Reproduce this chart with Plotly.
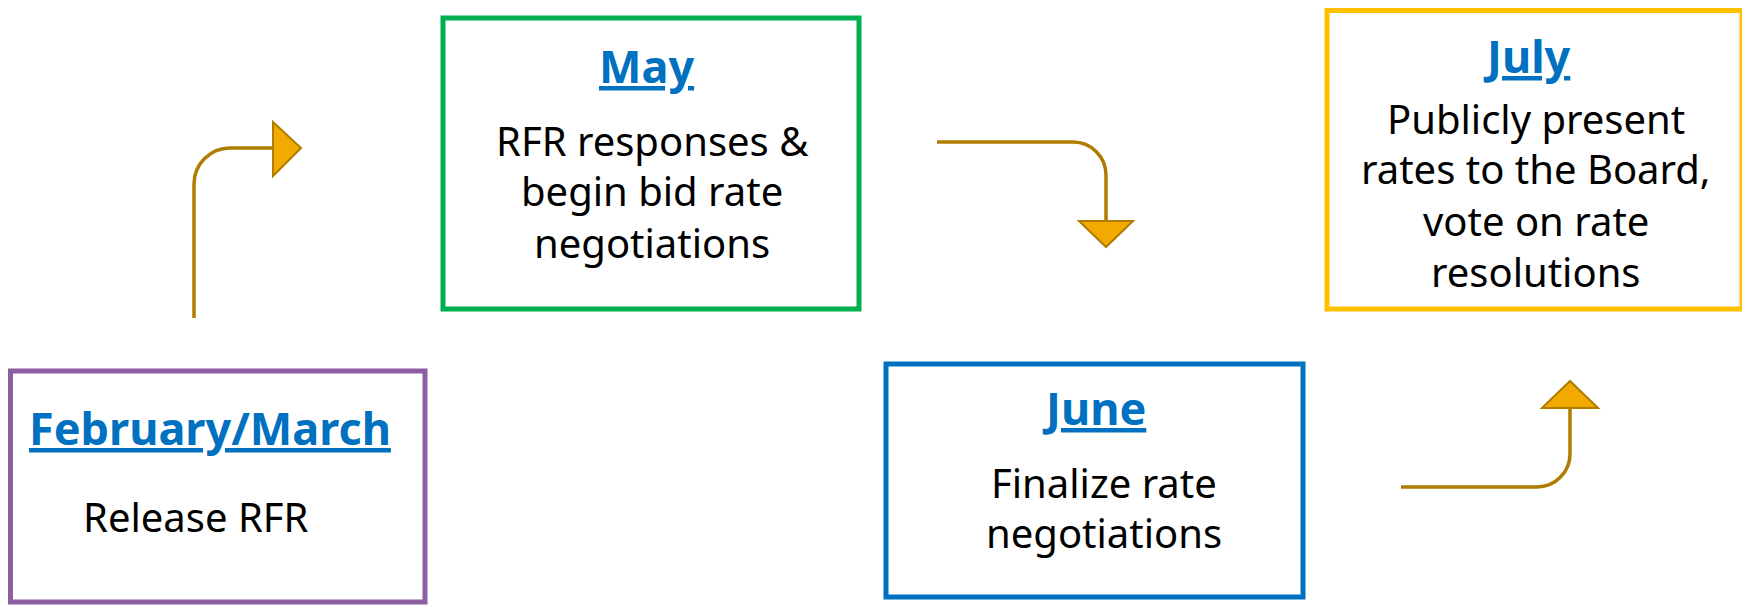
import plotly.graph_objects as go

# ---- content ----
months = ["February/March", "May", "June", "July"]
descriptions = [
    ["Release RFR"],
    ["RFR responses &", "begin bid rate", "negotiations"],
    ["Finalize rate", "negotiations"],
    ["Publicly present", "rates to the Board,", "vote on rate", "resolutions"],
]

# ---- layout (page pixel coordinates, y downward) ----
box_rects = [(10.5, 371, 425, 602), (443, 18, 859, 309), (886, 364, 1303, 597), (1327, 10.5, 1742, 309)]
box_colors = ["#8E5EA2", "#00B050", "#0070C0", "#FFC000"]
title_pos = [(210, 445), (646, 83), (1094, 425), (1527, 73)]  # (x center, baseline)
body_x = [196, 652, 1104, 1536]
body_baselines = [[532], [156, 206, 258], [498, 548], [134, 184, 236, 287]]

arrow_lines = [
    "M 194 318 L 194 184 C 194 164.2 210.2 148 230 148 L 274 148",
    "M 937 142 L 1073 142 C 1091.2 142 1106 156.8 1106 175 L 1106 222",
    "M 1401 487 L 1537 487 C 1555.2 487 1570 472.2 1570 454 L 1570 407",
]
arrow_heads = [
    "M 273 122 L 301 148 L 273 176 Z",
    "M 1079 221 L 1133 221 L 1106 247 Z",
    "M 1542 408 L 1598 408 L 1570 381 Z",
]

W, H = 1750, 605
OFF = 8  # default page body margin
FONT = "Noto Sans"
TITLE_SIZE = 45
BODY_SIZE = 40
TITLE_COLOR = "#0070C0"
ARROW_LINE = "#B07C00"
ARROW_FILL = "#F2A900"

fig = go.Figure()
fig.add_trace(go.Scatter(x=[OFF, W], y=[OFF, H], mode="markers", marker=dict(opacity=0),
                         hoverinfo="skip", showlegend=False))

shapes = []
for (x0, y0, x1, y1), c in zip(box_rects, box_colors):
    shapes.append(dict(type="rect", xref="x", yref="y", x0=x0, y0=y0, x1=x1, y1=y1,
                       line=dict(color=c, width=5), fillcolor="white", layer="below"))
for p in arrow_lines:
    shapes.append(dict(type="path", xref="x", yref="y", path=p, line=dict(color=ARROW_LINE, width=3.5)))
for p in arrow_heads:
    shapes.append(dict(type="path", xref="x", yref="y", path=p, fillcolor=ARROW_FILL,
                       line=dict(color=ARROW_LINE, width=2)))

annotations = []
for m, (tx, tb) in zip(months, title_pos):
    annotations.append(dict(x=tx, y=tb - 0.39 * TITLE_SIZE, xref="x", yref="y", text="<b>" + m + "</b>",
                            showarrow=False, xanchor="center", yanchor="middle",
                            font=dict(family=FONT, size=TITLE_SIZE, color=TITLE_COLOR, lineposition="under")))
for lines, bx, bls in zip(descriptions, body_x, body_baselines):
    for line, bl in zip(lines, bls):
        annotations.append(dict(x=bx, y=bl - 0.39 * BODY_SIZE, xref="x", yref="y", text=line,
                                showarrow=False, xanchor="center", yanchor="middle",
                                font=dict(family=FONT, size=BODY_SIZE, color="black")))

fig.update_layout(
    width=W - OFF, height=H - OFF, margin=dict(l=0, r=0, t=0, b=0),
    paper_bgcolor="white", plot_bgcolor="white",
    xaxis=dict(range=[OFF, W], visible=False, fixedrange=True),
    yaxis=dict(range=[H, OFF], visible=False, fixedrange=True),
    shapes=shapes, annotations=annotations, showlegend=False,
)
fig.write_html("out.html", config={"displayModeBar": False})
